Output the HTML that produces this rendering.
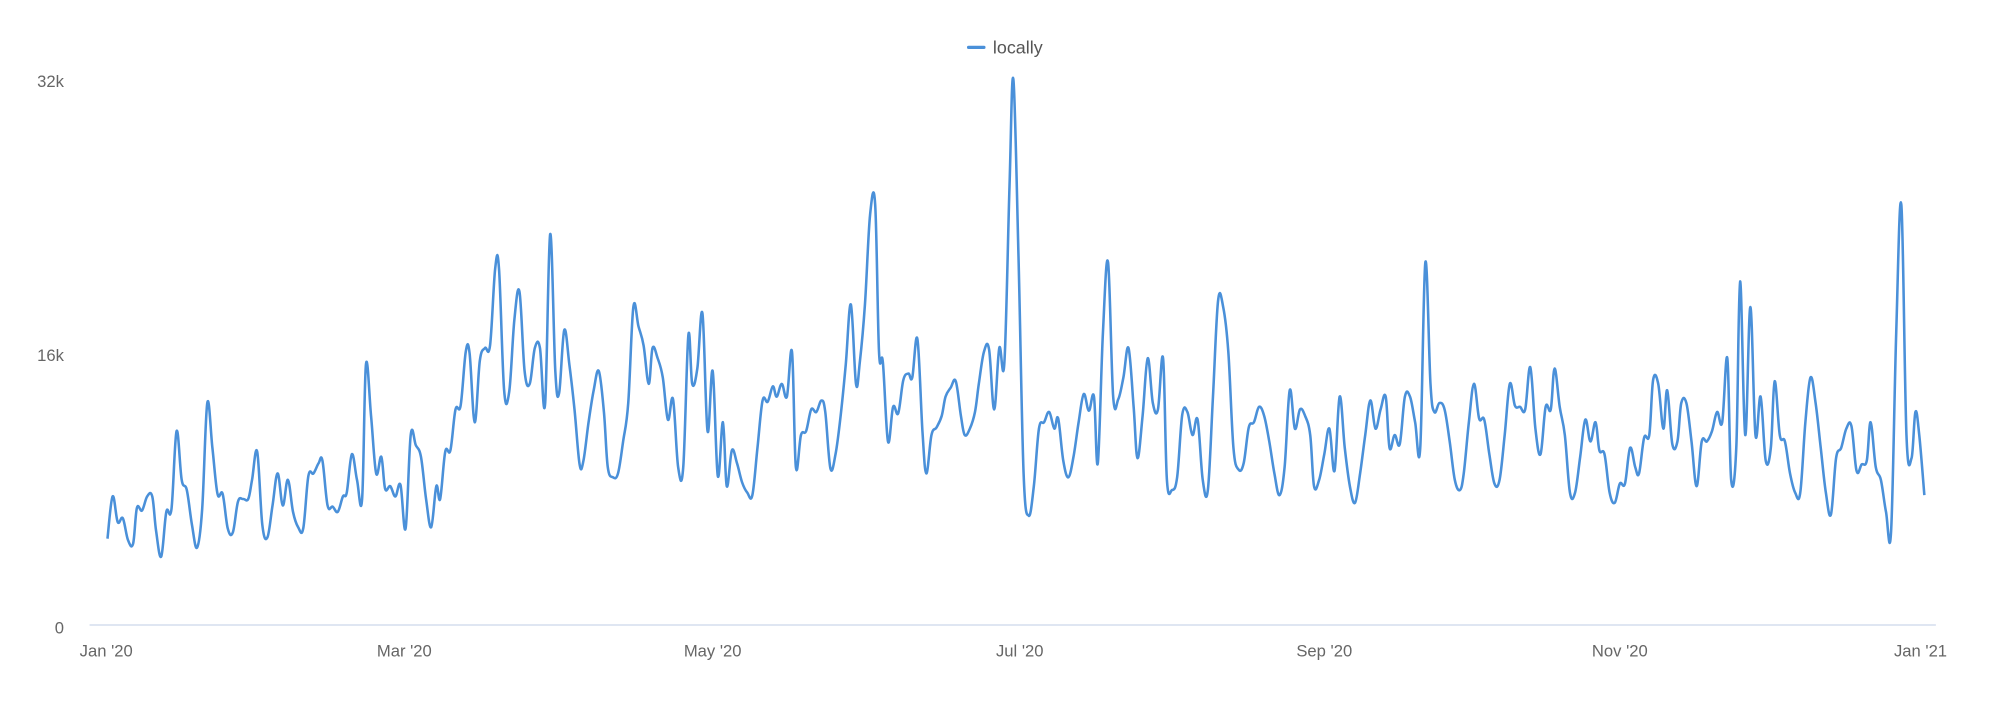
<!DOCTYPE html>
<html><head><meta charset="utf-8"><style>
html,body{margin:0;padding:0;background:#fff;width:2000px;height:715px;overflow:hidden}
svg text{font-family:"Liberation Sans",sans-serif;fill:#666;font-size:13px}
</style></head><body>
<svg id="s" width="2000" height="715" xmlns="http://www.w3.org/2000/svg">
<g transform="scale(1.2795)">
<line x1="70" y1="488.5" x2="1513" y2="488.5" stroke="#ccd6eb" stroke-width="1"/>
<text x="50" y="68" text-anchor="end">32k</text>
<text x="50" y="282" text-anchor="end">16k</text>
<text x="50" y="495" text-anchor="end">0</text>
<text x="83" y="513" text-anchor="middle">Jan '20</text>
<text x="316" y="513" text-anchor="middle">Mar '20</text>
<text x="557" y="513" text-anchor="middle">May '20</text>
<text x="797" y="513" text-anchor="middle">Jul '20</text>
<text x="1035" y="513" text-anchor="middle">Sep '20</text>
<text x="1266" y="513" text-anchor="middle">Nov '20</text>
<text x="1501" y="513" text-anchor="middle">Jan '21</text>
<line x1="757" y1="37" x2="769" y2="37" stroke="#4a90d9" stroke-width="2.5" stroke-linecap="round"/>
<text x="776" y="42" style="font-size:14px;fill:#555">locally</text>
<path id="p" fill="none" stroke="#4a90d9" stroke-width="2" stroke-linejoin="round"/>
</g>
</svg>
<script>
var d=[84,421,88,388,92,408,96,405,100,422,104,425,107,397,111,399,115,388,119,388,122,415,126,435,130,400,134,398,138,337,142,375,146,383,150,410,154,428,158,398,162,315,166,350,170,386,174,386,178,413,182,416,186,392,190,390,194,390,197,375,201,353,205,410,209,420,213,395,217,370,221,395,225,375,229,400,233,412,237,413,241,372,245,370,249,362,252,360,256,395,260,396,264,400,268,388,271,385,275,355,279,375,283,390,286,285,290,325,294,370,298,357,301,382,305,380,309,388,313,379,317,413,321,340,325,348,329,357,333,390,337,412,341,380,344,390,348,353,352,352,356,320,360,317,364,275,367,276,371,330,375,282,379,272,383,270,387,210,390,210,394,305,398,306,402,250,406,228,410,290,414,300,418,272,422,272,426,316,430,183,434,290,437,307,441,258,445,285,449,320,453,363,456,360,460,330,464,305,468,290,472,322,475,365,479,373,483,370,487,345,491,315,495,240,499,255,503,270,507,300,510,272,514,280,518,295,522,328,526,312,530,365,534,365,538,262,541,300,545,288,549,245,553,337,557,290,561,372,565,330,568,380,572,352,576,362,580,377,584,385,588,387,592,350,596,313,600,314,604,302,607,310,611,300,615,310,619,275,622,365,626,340,630,337,634,320,638,322,642,313,645,322,649,366,653,355,657,325,661,285,665,238,669,300,672,283,676,238,680,168,684,160,687,275,690,283,694,345,698,318,702,323,706,297,710,292,713,295,717,265,721,338,724,370,728,340,732,334,736,325,739,310,743,303,747,298,751,325,754,340,758,335,762,322,765,300,769,275,773,273,777,320,781,272,785,283,789,145,792,62,796,200,800,370,804,403,808,380,812,335,816,330,820,322,824,335,827,327,831,360,835,373,839,357,843,330,847,308,851,321,855,310,858,362,862,260,866,205,870,310,874,312,878,295,882,272,886,318,889,358,893,325,897,280,901,315,905,320,909,280,912,375,916,383,920,373,924,324,928,322,932,340,936,328,940,375,944,383,948,310,952,235,956,240,960,275,964,350,968,367,972,362,976,334,980,330,984,318,988,325,992,345,996,370,1000,387,1004,365,1008,305,1012,335,1016,320,1020,325,1024,340,1027,380,1031,375,1035,355,1039,335,1043,368,1047,310,1051,350,1055,380,1059,393,1063,370,1067,340,1071,313,1075,335,1079,320,1083,310,1086,350,1090,340,1094,347,1098,310,1102,310,1106,330,1110,350,1114,205,1118,300,1121,322,1125,315,1129,320,1133,345,1137,375,1141,383,1144,370,1148,330,1152,300,1156,327,1160,328,1164,355,1168,378,1172,375,1176,340,1180,300,1184,317,1188,318,1192,320,1196,287,1200,335,1204,355,1208,318,1212,320,1215,288,1219,318,1223,340,1227,385,1231,385,1235,357,1239,328,1243,345,1247,330,1250,352,1254,355,1258,385,1262,393,1266,378,1270,378,1274,350,1278,365,1281,370,1285,342,1289,340,1292,297,1296,300,1300,335,1303,305,1307,347,1311,345,1314,315,1318,315,1322,345,1326,380,1330,345,1334,345,1338,337,1342,322,1346,330,1350,280,1353,375,1357,350,1360,220,1364,340,1368,240,1372,340,1376,310,1380,360,1384,350,1387,298,1391,340,1395,345,1399,370,1403,385,1407,385,1411,330,1415,295,1419,315,1423,350,1427,385,1431,402,1435,358,1439,350,1443,335,1447,333,1451,368,1455,363,1459,360,1462,330,1466,365,1470,375,1474,400,1478,415,1482,260,1486,160,1490,340,1494,358,1497,322,1500,340,1504,387];
var p=[];for(var i=0;i<d.length;i+=2)p.push([d[i],d[i+1]]);
var s="M"+p[0][0]+","+p[0][1];
for(var i=0;i<p.length-1;i++){var a=p[i-1]||p[i],b=p[i],c=p[i+1],e=p[i+2]||c;
var t=0.18;s+=" C"+(b[0]+(c[0]-a[0])*t)+","+(b[1]+(c[1]-a[1])*t)+" "+(c[0]-(e[0]-b[0])*t)+","+(c[1]-(e[1]-b[1])*t)+" "+c[0]+","+c[1];}
document.getElementById("p").setAttribute("d",s);
</script>
</body></html>
